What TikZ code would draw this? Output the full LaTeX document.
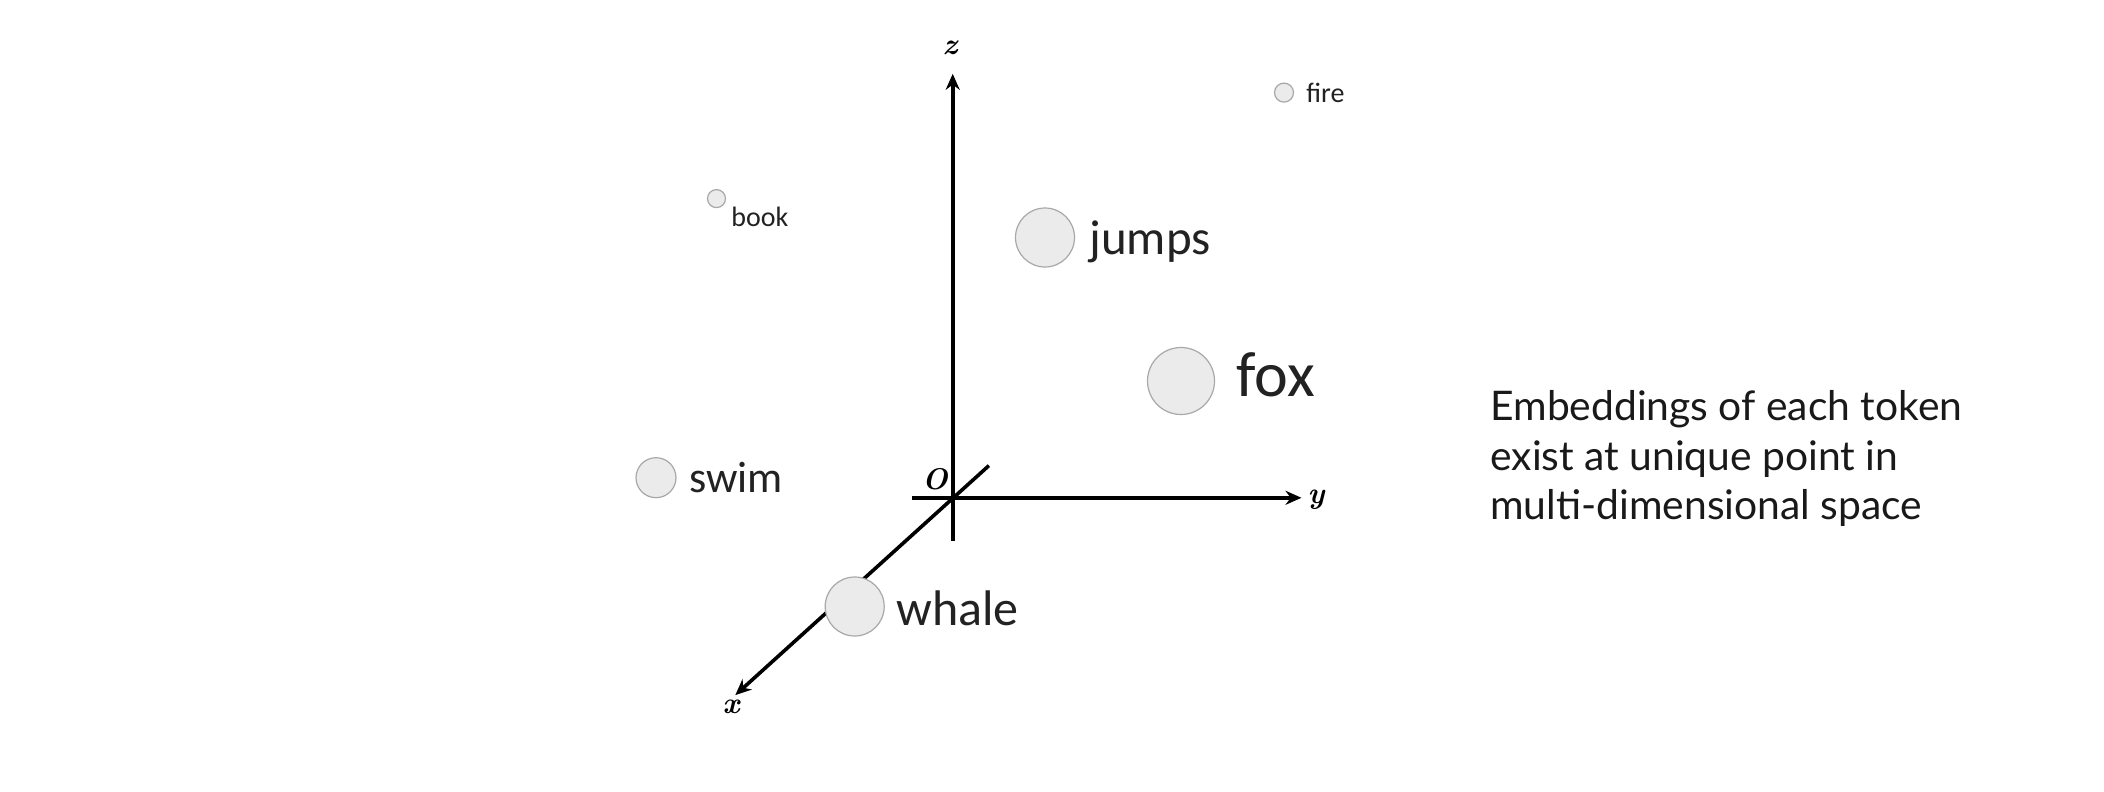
\documentclass[tikz,border=0pt]{standalone}
\usepackage{fontspec}
\setmainfont{Carlito}
\newfontfamily\latofont{Lato}
\newfontfamily\lmfont{Latin Modern Roman}
\usetikzlibrary{arrows.meta}
\definecolor{dotfill}{HTML}{EBEBEB}
\definecolor{dotline}{HTML}{A8A8A8}
\definecolor{labtext}{HTML}{222222}
\tikzset{
  axisline/.style={line width=1.8pt, black},
  axisarrow/.style={axisline, -{Stealth[length=8pt,width=7pt]}},
  axislab/.style={font=\lmfont\bfseries\itshape\fontsize{15}{15}\selectfont, inner sep=0pt},
  dot/.style={circle, draw=dotline, fill=dotfill, line width=0.6pt, inner sep=0pt},
  word/.style={anchor=west, inner sep=0pt, text=labtext},
}
\begin{document}
\begin{tikzpicture}[x=0.5pt,y=-0.5pt]
\useasboundingbox[fill=white] (0,0) rectangle (2104,792);
% axes
\coordinate (zbot) at (952.7,540.7);
\coordinate (ztop) at (952.7,73.8);
\coordinate (yleft) at (912.4,497.8);
\coordinate (ytip) at (1301.5,497.8);
\coordinate (xback) at (988.9,465.6);
\coordinate (xtip) at (735.3,695.1);
\draw[axisarrow] (zbot) -- (ztop);
\draw[axisarrow] (yleft) -- (ytip);
\draw[axisarrow] (xback) -- (xtip);
\node[axislab] (zlab) at (950,48) {z};
\node[axislab] (ylab) at (1316,500) {y};
\node[axislab] (xlab) at (731,707) {x};
\node[axislab] (olab) at (935,479) {O};
% points
\node[dot, minimum size=19pt*0.5] (firedot) at (1284,92.6) {};
\node[word, font=\fontsize{14}{14}\selectfont] (firelab) at (1306,93) {fire};
\node[dot, minimum size=18pt*0.5] (bookdot) at (716.5,198.6) {};
\node[word, font=\fontsize{14}{14}\selectfont] (booklab) at (731,217) {book};
\node[dot, minimum size=59pt*0.5] (jumpsdot) at (1045,237.5) {};
\node[word, font=\fontsize{24.5}{24.5}\selectfont] (jumpslab) at (1089,241.5) {jumps};
\node[dot, minimum size=67pt*0.5] (foxdot) at (1181,381) {};
\node[word, font=\fontsize{32}{32}\selectfont] (foxlab) at (1236,375) {fox};
\node[dot, minimum size=40pt*0.5] (swimdot) at (656,477.7) {};
\node[word, font=\fontsize{22}{22}\selectfont] (swimlab) at (689,478) {swim};
\node[dot, minimum size=59pt*0.5] (whaledot) at (854.7,606.5) {};
\node[word, font=\fontsize{25}{25}\selectfont] (whalelab) at (896,608) {whale};
% caption
\node[anchor=north west, inner sep=0pt, align=left, text=black!90,
      font=\latofont\fontsize{20.4}{24.8}\selectfont] (caption) at (1490,390)
  {Embeddings of each token\\exist at unique point in\\multi-dimensional space};
\end{tikzpicture}
\end{document}
